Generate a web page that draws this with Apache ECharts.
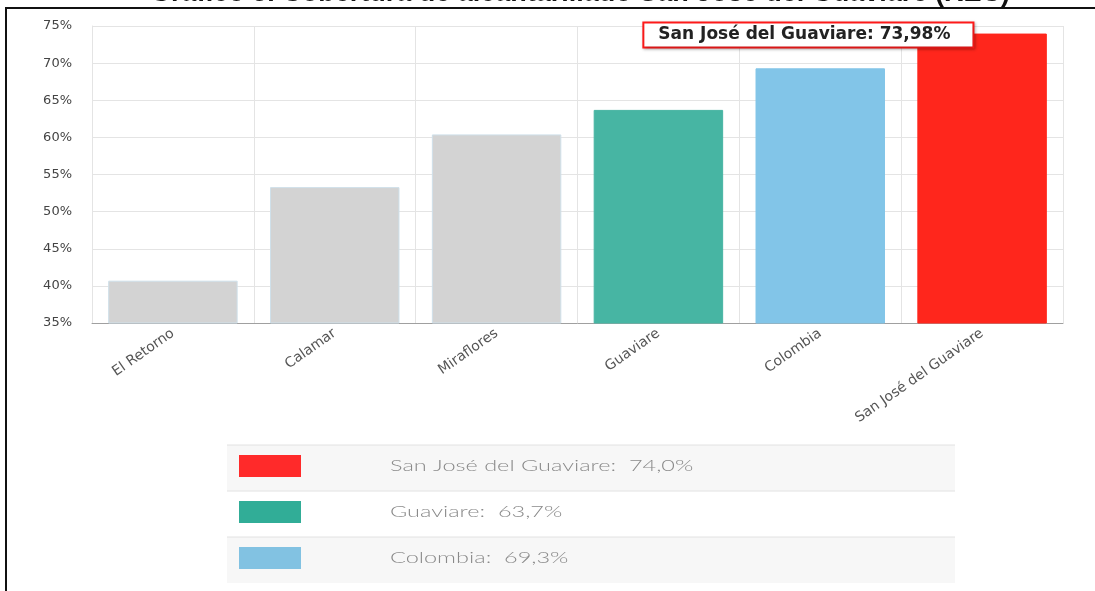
<!DOCTYPE html>
<html><head><meta charset="utf-8">
<script src="https://cdn.jsdelivr.net/npm/echarts@6/dist/echarts.min.js"></script>
<style>html,body{margin:0;padding:0;background:#fff;}#c{width:1095px;height:591px;}</style>
</head><body><div id="c"></div>
<script>
const categories = ['El Retorno','Calamar','Miraflores','Guaviare','Colombia','San José del Guaviare'];
const values = [40.7, 53.3, 60.4, 63.7, 69.3, 73.98];
const barColors = ['#d3d3d3','#d3d3d3','#d3d3d3','#47b5a3','#82c5e8','#ff261c'];
const yTicks = [35,40,45,50,55,60,65,70,75];
const legendNames = ['San José del Guaviare','Guaviare','Colombia'];
const legendValues = ['74,0%','63,7%','69,3%'];
const legendColors = ['#ff2a2a','#31ad97','#82c2e2'];
const titleText = 'Gráfico 5. Cobertura de alcantarillado San José del Guaviare (REC)';

const chart = echarts.init(document.getElementById('c'), null, {renderer:'canvas'});
const gridL = 92, gridR = 1095-1063, gridT = 26, gridB = 591-323;

const graphics = [
  {type:'line', shape:{x1:5,y1:8,x2:1095,y2:8}, style:{stroke:'#111',lineWidth:2}, z:100},
  {type:'line', shape:{x1:6,y1:8,x2:6,y2:591}, style:{stroke:'#111',lineWidth:2}, z:100}
];
const tblX = 227, tblW = 728, rowH = 46, tblY = 445;
legendNames.forEach((n,i)=>{
  const y = tblY + i*rowH;
  graphics.push({type:'rect', shape:{x:tblX,y:y,width:tblW,height:rowH}, style:{fill: i%2===0?'#f7f7f7':'#ffffff'}, z:1});
  graphics.push({type:'line', shape:{x1:tblX,y1:y,x2:tblX+tblW,y2:y}, style:{stroke:'#e2e2e2',lineWidth:1}, z:2});
  graphics.push({type:'rect', shape:{x:239,y:y+10,width:62,height:22}, style:{fill:legendColors[i]}, z:3});
  graphics.push({type:'text', x:390, y:y+21, scaleX:1.47, style:{text:n+':  '+legendValues[i], fill:'#8a8a8a', font:'300 16px Lato', verticalAlign:'middle'}, z:3});
});
graphics.push({type:'text', x:580, y:-20, style:{text:titleText, fill:'#111', font:'bold 27px "Liberation Sans"', align:'center'}, z:100});

chart.setOption({
  animation:false,
  grid:{left:gridL, right:gridR, top:gridT, bottom:gridB, containLabel:false},
  xAxis:{
    type:'category', data:categories, boundaryGap:true,
    axisLine:{lineStyle:{color:'#a0a0a0'}},
    axisTick:{alignWithLabel:true, length:5, lineStyle:{color:'#a0a0a0'}},
    axisLabel:{rotate:35, color:'#555', fontSize:14, fontFamily:'DejaVu Sans', margin:9, interval:0},
    splitLine:{show:true, lineStyle:{color:'#e4e4e4'}}
  },
  yAxis:{
    type:'value', min:35, max:75, interval:5,
    axisLabel:{formatter:v=>v+'%', color:'#444', fontSize:13, fontFamily:'DejaVu Sans', margin:20},
    axisLine:{show:true, lineStyle:{color:'#e4e4e4'}},
    splitLine:{lineStyle:{color:'#e4e4e4'}}
  },
  series:[{
    type:'bar', barWidth:'80%',
    data: values.map((v,i)=>{
      const d = {value:v, itemStyle:{color:barColors[i], borderColor: i<3?'#cfe0ea':barColors[i], borderWidth:1}};
      if(i===values.length-1){
        d.label = {show:true, position:[-273,-10], align:'left', verticalAlign:'top',
          formatter: p=>p.name+': '+p.value.toFixed(2).replace('.',',')+'%',
          backgroundColor:'#fff', borderColor:'#ff1a1a', borderWidth:2, padding:[3,22,3,14],
          color:'#222', fontWeight:'bold', fontSize:17, fontFamily:'DejaVu Sans',
          shadowColor:'rgba(0,0,0,0.3)', shadowBlur:3, shadowOffsetX:1, shadowOffsetY:1};
      }
      return d;
    })
  }],
  graphic: graphics
});
</script></body></html>
